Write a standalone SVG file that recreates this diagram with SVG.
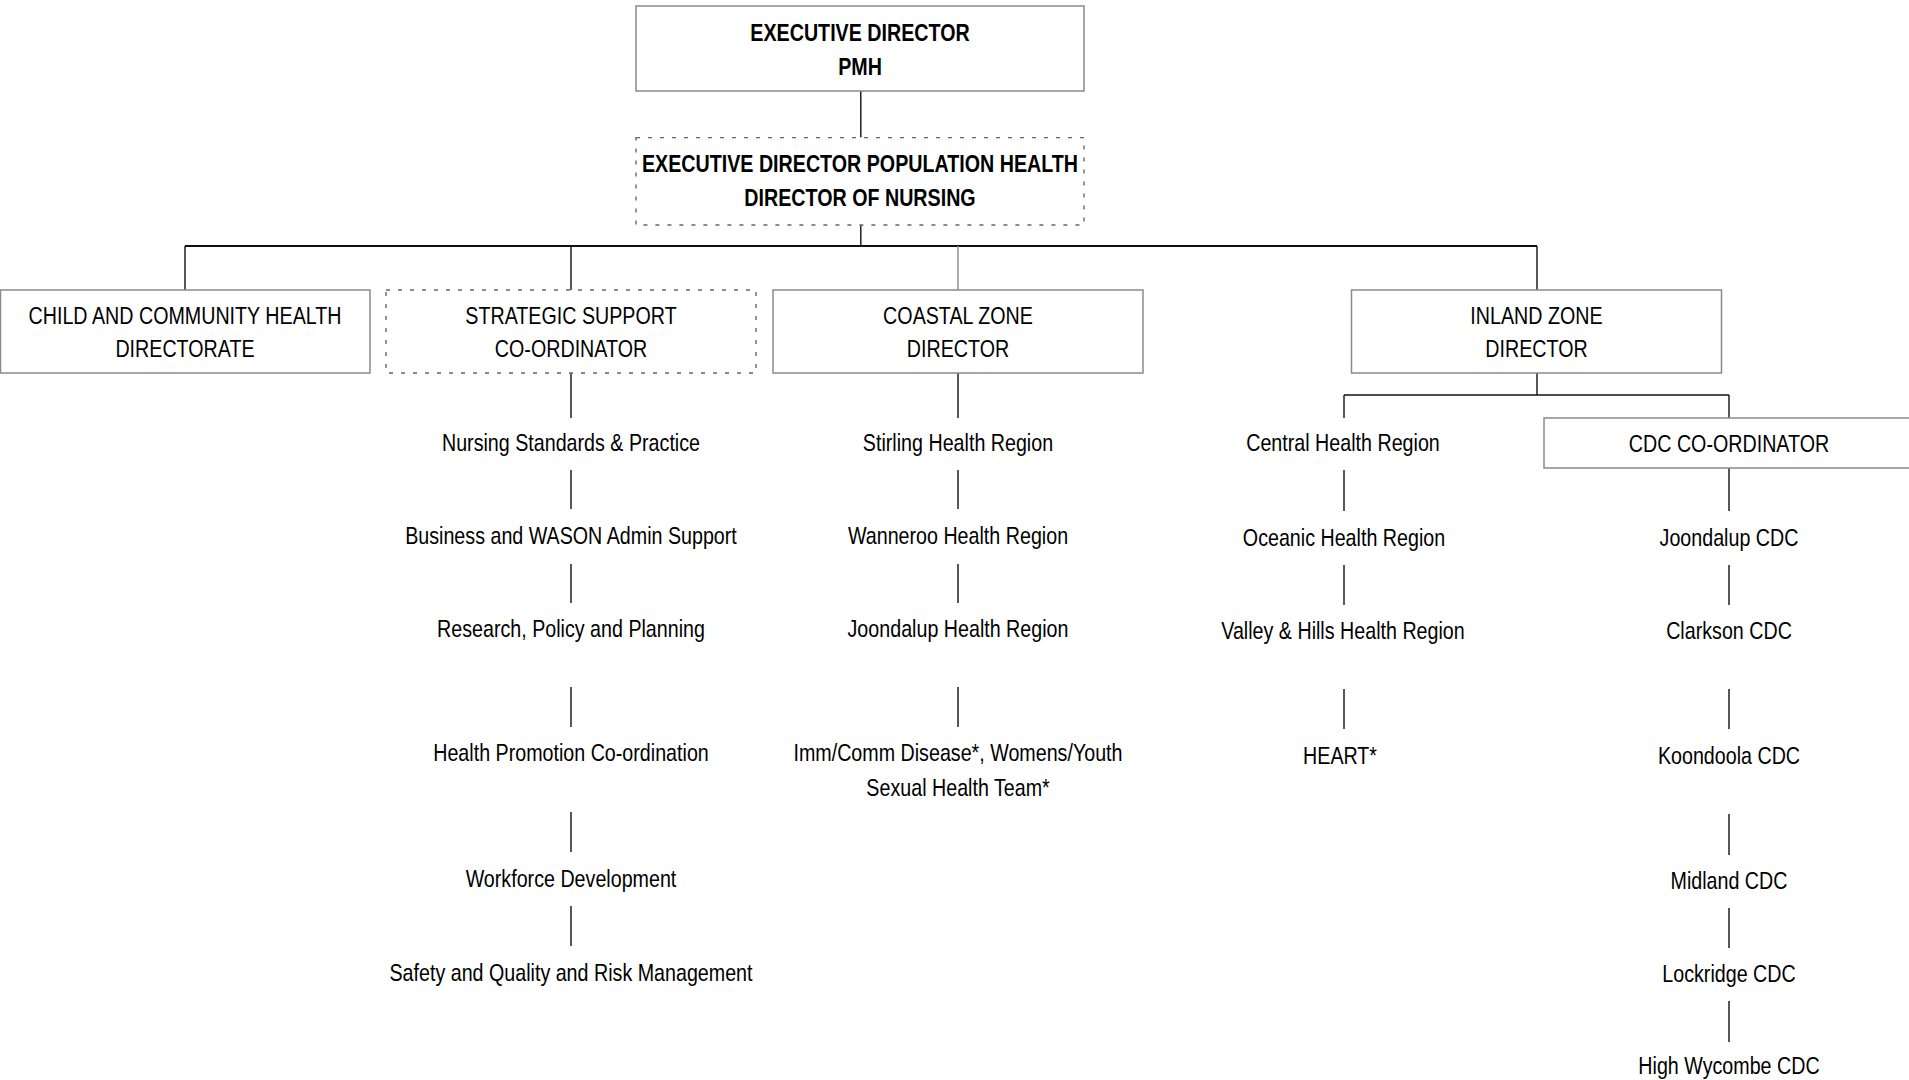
<svg xmlns="http://www.w3.org/2000/svg" width="1909" height="1080" viewBox="0 0 1909 1080">
<style>
text{font-family:"Liberation Sans Narrow","Arial Narrow","Liberation Sans",Arial,sans-serif;font-size:24px;fill:#000;text-anchor:middle;transform-box:fill-box;transform-origin:center;transform:scaleX(0.82)}
.b{font-weight:bold}
.box{fill:#fff;stroke:#8a8a8a;stroke-width:1.5}
.dot{fill:#fff;stroke:#666;stroke-width:1.4;stroke-dasharray:4 8}
.c line{stroke:#111;stroke-width:1.4}
.c .thick{stroke-width:2}
.c .gray{stroke:#888}
</style>
<rect width="1909" height="1080" fill="#fff"/>
<g class="c" id="connectors">
<line x1="860.8" y1="91" x2="860.8" y2="137.6"/>
<line x1="860.8" y1="225" x2="860.8" y2="246"/>
<line class="thick" x1="185" y1="246" x2="1537" y2="246"/>
<line x1="185" y1="246" x2="185" y2="290"/>
<line x1="571" y1="246" x2="571" y2="290"/>
<line class="gray" x1="958" y1="246" x2="958" y2="290"/>
<line x1="1537" y1="246" x2="1537" y2="290"/>
<line x1="571" y1="373" x2="571" y2="418"/>
<line x1="571" y1="470" x2="571" y2="509"/>
<line x1="571" y1="564" x2="571" y2="603"/>
<line x1="571" y1="687" x2="571" y2="727"/>
<line x1="571" y1="812" x2="571" y2="852"/>
<line x1="571" y1="906" x2="571" y2="946"/>
<line x1="958" y1="373" x2="958" y2="418"/>
<line x1="958" y1="470" x2="958" y2="509"/>
<line x1="958" y1="564" x2="958" y2="603"/>
<line x1="958" y1="687" x2="958" y2="727"/>
<line x1="1537" y1="373" x2="1537" y2="395"/>
<line x1="1344" y1="395" x2="1729" y2="395"/>
<line x1="1344" y1="395" x2="1344" y2="418"/>
<line x1="1729" y1="395" x2="1729" y2="418"/>
<line x1="1344" y1="470" x2="1344" y2="511"/>
<line x1="1344" y1="565" x2="1344" y2="605"/>
<line x1="1344" y1="689" x2="1344" y2="729"/>
<line x1="1729" y1="468" x2="1729" y2="511"/>
<line x1="1729" y1="565" x2="1729" y2="605"/>
<line x1="1729" y1="689" x2="1729" y2="729"/>
<line x1="1729" y1="814" x2="1729" y2="855"/>
<line x1="1729" y1="908" x2="1729" y2="948"/>
<line x1="1729" y1="1001" x2="1729" y2="1042"/>
</g>
<g id="exec-pmh"><rect class="box" x="636" y="6" width="448" height="85"/><text class="b" x="860" y="41.5">EXECUTIVE DIRECTOR</text><text class="b" x="860" y="75.5">PMH</text></g>
<g id="exec-pop"><rect class="dot" x="636" y="137.6" width="448" height="87.4"/><text class="b" x="860" y="172.5">EXECUTIVE DIRECTOR POPULATION HEALTH</text><text class="b" x="860" y="206.5">DIRECTOR OF NURSING</text></g>
<g id="child"><rect class="box" x="0.5" y="290" width="369.5" height="83"/><text x="185" y="324.5">CHILD AND COMMUNITY HEALTH</text><text x="185" y="357.5">DIRECTORATE</text></g>
<g id="strategic"><rect class="dot" x="386" y="290" width="370" height="83"/><text x="571" y="324.5">STRATEGIC SUPPORT</text><text x="571" y="357.5">CO-ORDINATOR</text></g>
<g id="coastal"><rect class="box" x="773" y="290" width="370" height="83"/><text x="958" y="324.5">COASTAL ZONE</text><text x="958" y="357.5">DIRECTOR</text></g>
<g id="inland"><rect class="box" x="1351.5" y="290" width="370" height="83"/><text x="1536.5" y="324.5">INLAND ZONE</text><text x="1536.5" y="357.5">DIRECTOR</text></g>
<g id="cdc-coord"><rect class="box" x="1544" y="418" width="400" height="50"/><text x="1729" y="452.5">CDC CO-ORDINATOR</text></g>
<g id="s1"><text x="571" y="451.5">Nursing Standards &amp; Practice</text></g>
<g id="s2"><text x="571" y="544">Business and WASON Admin Support</text></g>
<g id="s3"><text x="571" y="637.5">Research, Policy and Planning</text></g>
<g id="s4"><text x="571" y="761.5">Health Promotion Co-ordination</text></g>
<g id="s5"><text x="571" y="887.5">Workforce Development</text></g>
<g id="s6"><text x="571" y="981">Safety and Quality and Risk Management</text></g>
<g id="c1"><text x="958" y="451.5">Stirling Health Region</text></g>
<g id="c2"><text x="958" y="544">Wanneroo Health Region</text></g>
<g id="c3"><text x="958" y="637.5">Joondalup Health Region</text></g>
<g id="c4"><text x="958" y="761.5">Imm/Comm Disease*, Womens/Youth</text><text x="958" y="796">Sexual Health Team*</text></g>
<g id="i1"><text x="1343" y="451.5">Central Health Region</text></g>
<g id="i2"><text x="1344" y="546.5">Oceanic Health Region</text></g>
<g id="i3"><text x="1343" y="639">Valley &amp; Hills Health Region</text></g>
<g id="i4"><text x="1340" y="764.5">HEART*</text></g>
<g id="d1"><text x="1729" y="546.5">Joondalup CDC</text></g>
<g id="d2"><text x="1729" y="639">Clarkson CDC</text></g>
<g id="d3"><text x="1729" y="764.5">Koondoola CDC</text></g>
<g id="d4"><text x="1729" y="889.5">Midland CDC</text></g>
<g id="d5"><text x="1729" y="982.5">Lockridge CDC</text></g>
<g id="d6"><text x="1729" y="1074.5">High Wycombe CDC</text></g>
</svg>
